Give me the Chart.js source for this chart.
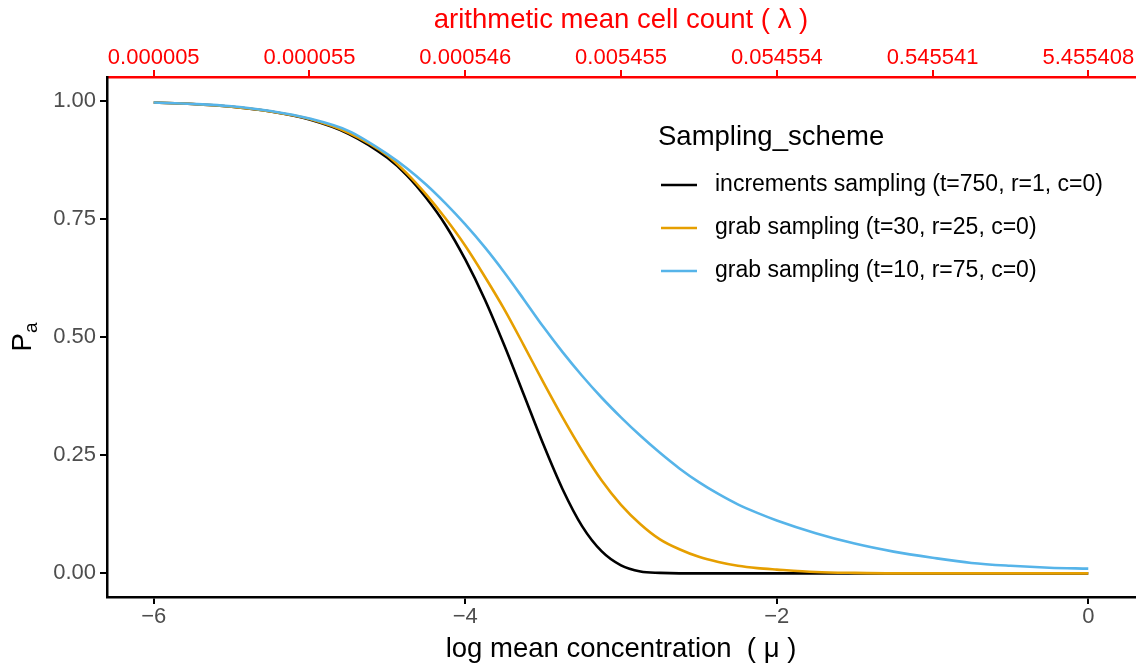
<!DOCTYPE html>
<html>
<head>
<meta charset="utf-8">
<script src="https://cdn.jsdelivr.net/npm/chart.js@4.4.0/dist/chart.umd.min.js"></script>
<style>
  html, body { margin: 0; padding: 0; background: #fff; }
  #wrap { width: 1144px; height: 666px; }
</style>
</head>
<body>
<div id="wrap"><canvas id="pa-chart" width="1144" height="666"></canvas></div>
<script>
// log10 mean concentration grid (finer where the curves fall steeply)
const mu = [-6, -5.75, -5.5, -5.25, -5, -4.75, -4.5,
            -4.375, -4.25, -4.125, -4, -3.875, -3.75, -3.625, -3.5,
            -3.375, -3.25, -3.125, -3, -2.875, -2.75, -2.625, -2.5,
            -2.375, -2.25, -2.125, -2,
            -1.75, -1.5, -1.25, -1, -0.75, -0.5, -0.25, 0];

// probability of acceptance per sampling scheme
const paIncrements = [0.996, 0.993, 0.987, 0.977, 0.960, 0.930, 0.879,
                      0.842, 0.794, 0.736, 0.664, 0.580, 0.483, 0.379, 0.274,
                      0.178, 0.100, 0.047, 0.017, 0.004, 0.001, 0, 0,
                      0, 0, 0, 0,
                      0, 0, 0, 0, 0, 0, 0, 0];
const paGrab30 = [0.996, 0.993, 0.987, 0.977, 0.961, 0.932, 0.884,
                  0.846, 0.801, 0.750, 0.693, 0.628, 0.559, 0.483, 0.405,
                  0.330, 0.260, 0.197, 0.145, 0.104, 0.072, 0.051, 0.035,
                  0.024, 0.016, 0.011, 0.008,
                  0.003, 0.001, 0, 0, 0, 0, 0, 0];
const paGrab10 = [0.996, 0.993, 0.988, 0.978, 0.962, 0.936, 0.887,
                  0.857, 0.822, 0.782, 0.738, 0.690, 0.637, 0.580, 0.522,
                  0.468, 0.418, 0.372, 0.330, 0.291, 0.255, 0.222, 0.193,
                  0.168, 0.146, 0.128, 0.112,
                  0.085, 0.063, 0.046, 0.033, 0.022, 0.016, 0.012, 0.010];

const schemeNames = [
  "increments sampling (t=750, r=1, c=0)",
  "grab sampling (t=30, r=25, c=0)",
  "grab sampling (t=10, r=75, c=0)"
];
const schemeColors = ["#000000", "#E69F00", "#56B4E9"];

const muTicks = [-6, -4, -2, 0];
const lambdaTickPos = [-6, -5, -4, -3, -2, -1, 0];
const lambdaTickLabels = ["0.000005", "0.000055", "0.000546", "0.005455", "0.054554", "0.545541", "5.455408"];
const paTicks = [0, 0.25, 0.5, 0.75, 1];

const FONT = "'Liberation Sans', Arial, Helvetica, sans-serif";
const RED = "#FF0000";

const toPoints = (ys) => mu.map((m, i) => ({ x: m, y: ys[i] }));

const minusSign = (v) => (v < 0 ? "\u2212" + Math.abs(v) : String(v));

// legend box and rotated P_a title
const overlay = {
  id: "overlay",
  afterDraw(chart) {
    const ctx = chart.ctx;
    ctx.save();
    ctx.fillStyle = "#000";
    ctx.textBaseline = "middle";
    ctx.textAlign = "left";
    ctx.font = "27.5px " + FONT;
    ctx.fillText("Sampling_scheme", 658, 137);

    const rowY = [185, 228, 271];
    chart.data.datasets.forEach((ds, i) => {
      ctx.strokeStyle = ds.borderColor;
      ctx.lineWidth = 2.6;
      ctx.beginPath();
      ctx.moveTo(661, rowY[i]);
      ctx.lineTo(697, rowY[i]);
      ctx.stroke();
      ctx.fillStyle = "#000";
      ctx.font = "23px " + FONT;
      ctx.fillText(ds.label, 715, rowY[i]);
    });

    // y title with subscript
    ctx.translate(22, 337);
    ctx.rotate(-Math.PI / 2);
    ctx.font = "27.5px " + FONT;
    const wP = ctx.measureText("P").width;
    ctx.font = "19px " + FONT;
    const wA = ctx.measureText("a").width;
    const start = -(wP + wA) / 2;
    ctx.textBaseline = "alphabetic";
    ctx.font = "27.5px " + FONT;
    ctx.fillText("P", start, 9);
    ctx.font = "19px " + FONT;
    ctx.fillText("a", start + wP, 15);
    ctx.restore();
  }
};

new Chart(document.getElementById("pa-chart"), {
  type: "line",
  data: {
    datasets: [
      { label: schemeNames[0], data: toPoints(paIncrements), borderColor: schemeColors[0], order: 2 },
      { label: schemeNames[1], data: toPoints(paGrab30), borderColor: schemeColors[1], order: 1 },
      { label: schemeNames[2], data: toPoints(paGrab10), borderColor: schemeColors[2], order: 0 }
    ]
  },
  options: {
    responsive: false,
    animation: false,
    events: [],
    datasets: {
      line: {
        borderWidth: 2.6,
        pointRadius: 0,
        fill: false,
        cubicInterpolationMode: "monotone"
      }
    },
    layout: { padding: { left: 0, right: 9, top: 0, bottom: 0 } },
    plugins: {
      legend: { display: false },
      tooltip: { enabled: false }
    },
    scales: {
      x: {
        type: "linear",
        position: "bottom",
        min: -6.3,
        max: 0.3,
        afterBuildTicks: (scale) => { scale.ticks = muTicks.map(v => ({ value: v })); },
        afterFit: (scale) => { scale.height = 69; },
        grid: { drawOnChartArea: false, drawTicks: true, tickLength: 7, color: "#000", lineWidth: 2 },
        border: { display: true, color: "#000", width: 2.5 },
        ticks: {
          color: "#4D4D4D",
          padding: 2,
          maxRotation: 0,
          font: { family: FONT, size: 22, lineHeight: 1 },
          callback: (v) => minusSign(v)
        },
        title: {
          display: true,
          text: "log mean concentration  ( \u03bc )",
          color: "#000",
          padding: { top: 0, bottom: 0 },
          font: { family: FONT, size: 27.5 }
        }
      },
      xTop: {
        type: "linear",
        position: "top",
        min: -6.3,
        max: 0.3,
        afterBuildTicks: (scale) => { scale.ticks = lambdaTickPos.map(v => ({ value: v })); },
        afterFit: (scale) => { scale.height = 77; },
        grid: { drawOnChartArea: false, drawTicks: true, tickLength: 7, color: RED, lineWidth: 2 },
        border: { display: true, color: RED, width: 2.5 },
        ticks: {
          color: RED,
          padding: 1,
          maxRotation: 0,
          font: { family: FONT, size: 22, lineHeight: 1 },
          callback: (v) => lambdaTickLabels[lambdaTickPos.indexOf(v)]
        },
        title: {
          display: true,
          text: "arithmetic mean cell count ( \u03bb )",
          color: RED,
          padding: { top: 4, bottom: 0 },
          font: { family: FONT, size: 27.5 }
        }
      },
      y: {
        type: "linear",
        position: "left",
        min: -0.05,
        max: 1.05,
        afterBuildTicks: (scale) => { scale.ticks = paTicks.map(v => ({ value: v })); },
        afterFit: (scale) => { scale.width = 107; },
        grid: { drawOnChartArea: false, drawTicks: true, tickLength: 7, color: "#000", lineWidth: 2 },
        border: { display: true, color: "#000", width: 2.5 },
        ticks: {
          color: "#4D4D4D",
          padding: 4,
          font: { family: FONT, size: 22, lineHeight: 1 },
          callback: (v) => v.toFixed(2)
        }
      }
    }
  },
  plugins: [overlay]
});
</script>
</body>
</html>
